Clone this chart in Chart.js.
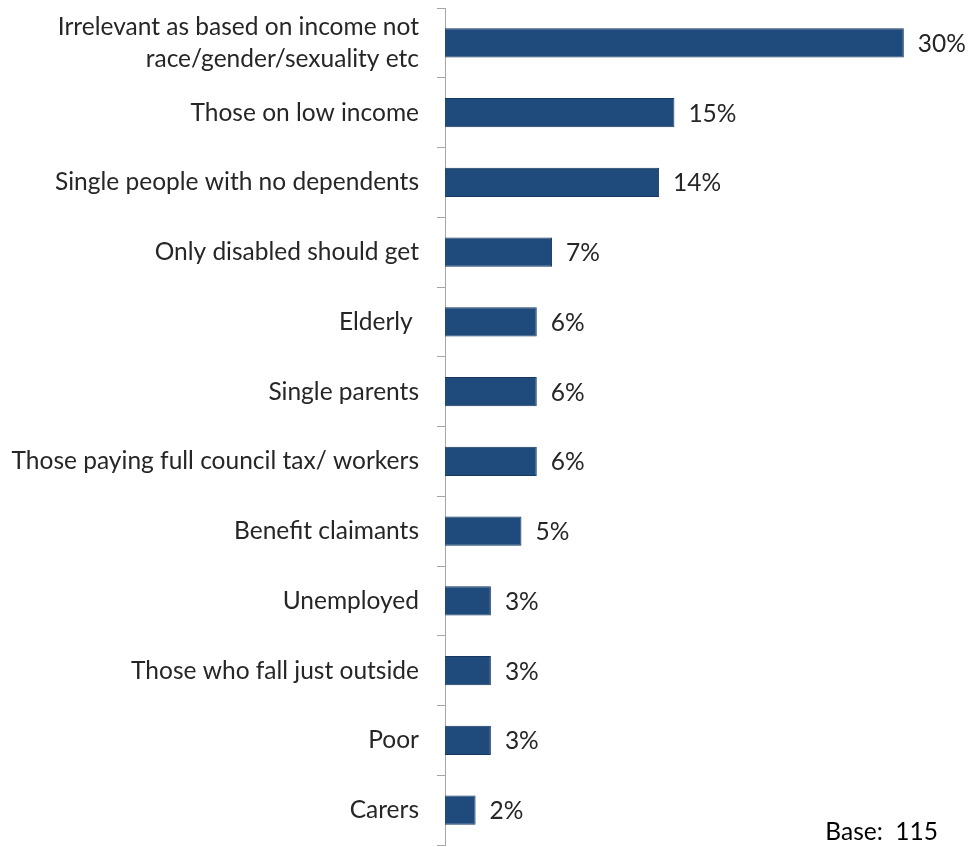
<!DOCTYPE html>
<html>
<head>
<meta charset="utf-8">
<script src="https://cdn.jsdelivr.net/npm/chart.js@4"></script>
<style>
  html, body { margin: 0; padding: 0; background: #fff; }
  #wrap { position: relative; width: 970px; height: 847px; }
</style>
</head>
<body>
<div id="wrap"><canvas id="chart"></canvas></div>
<script>
// 응답 분류별 비율 (%)
var categories = [
  ['Irrelevant as based on income not', 'race/gender/sexuality etc'],
  'Those on low income',
  'Single people with no dependents',
  'Only disabled should get',
  'Elderly ',
  'Single parents',
  'Those paying full council tax/ workers',
  'Benefit claimants',
  'Unemployed',
  'Those who fall just outside',
  'Poor',
  'Carers'
];
var percents = [30, 15, 14, 7, 6, 6, 6, 5, 3, 3, 3, 2];
var baseCount = 115;

var FONT = 'Lato, "Open Sans", sans-serif';
var FONT_SIZE = 24.5;
var TEXT = '#262626';

// 막대 끝에 % 값 표시
var valueLabels = {
  id: 'valueLabels',
  afterDatasetsDraw: function (chart) {
    var ctx = chart.ctx;
    var meta = chart.getDatasetMeta(0);
    ctx.save();
    ctx.font = FONT_SIZE + 'px ' + FONT;
    ctx.fillStyle = TEXT;
    ctx.textAlign = 'left';
    ctx.textBaseline = 'middle';
    meta.data.forEach(function (bar, i) {
      ctx.fillText(percents[i] + '%', bar.x + 14, bar.y + 1);
    });
    ctx.restore();
  }
};

// 오른쪽 아래 응답자 수
var baseNote = {
  id: 'baseNote',
  afterDraw: function (chart) {
    var ctx = chart.ctx;
    ctx.save();
    ctx.font = FONT_SIZE + 'px ' + FONT;
    ctx.fillStyle = '#000';
    ctx.textAlign = 'right';
    ctx.textBaseline = 'middle';
    ctx.fillText('Base:  ' + baseCount, 938, 832);
    ctx.restore();
  }
};

new Chart(document.getElementById('chart'), {
  type: 'bar',
  data: {
    labels: categories,
    datasets: [{
      data: percents,
      backgroundColor: '#1F4A7C',
      borderColor: '#17375E',
      borderWidth: 1,
      barPercentage: 0.42,
      categoryPercentage: 1
    }]
  },
  options: {
    indexAxis: 'y',
    responsive: true,
    maintainAspectRatio: false,
    animation: false,
    layout: { padding: { top: 8, bottom: 2, left: 0, right: 5 } },
    plugins: {
      legend: { display: false },
      tooltip: { enabled: false }
    },
    scales: {
      x: {
        display: false,
        min: 0,
        max: 34
      },
      y: {
        afterFit: function (scale) {
          scale.width = 445;
          scale.paddingTop = 0;
          scale.paddingBottom = 0;
        },
        border: { display: true, color: '#A6A6A6', width: 1 },
        grid: {
          drawOnChartArea: false,
          drawTicks: true,
          tickLength: 8,
          color: '#A6A6A6',
          offset: true
        },
        ticks: {
          color: TEXT,
          padding: 18,
          font: { family: FONT, size: FONT_SIZE, lineHeight: 1.3 }
        }
      }
    }
  },
  plugins: [valueLabels, baseNote]
});
</script>
</body>
</html>
